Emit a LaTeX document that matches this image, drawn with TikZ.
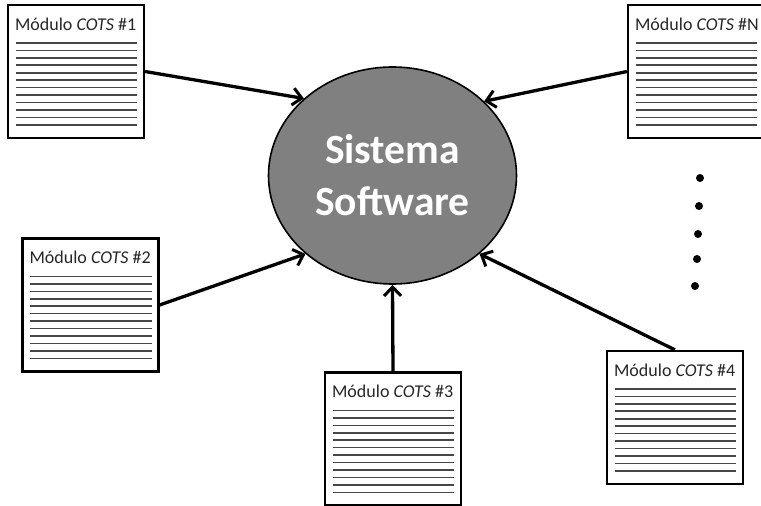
\documentclass[tikz,border=0pt]{standalone}
\usepackage{fontspec}
\setmainfont{Carlito}
\usetikzlibrary{arrows.meta,shapes.geometric}
\tikzset{
  modbox/.style={draw=black, line width=2.2pt, fill=white, rectangle, inner sep=0pt, minimum width=136pt, minimum height=133pt},
  modtitle/.style={inner sep=0pt, text=black!85, font=\fontsize{18}{21}\selectfont},
  modline/.style={draw=black!72, line width=1.6pt},
  conn/.style={draw=black, line width=3.3pt, -{Straight Barb[length=9pt,width=17pt,line width=3pt]}},
  sysell/.style={ellipse, draw=black, line width=1.6pt, fill=black!50, inner sep=0pt, minimum width=248pt, minimum height=217pt, text=white, align=center, font=\fontsize{41.5}{52}\selectfont\bfseries},
  vdot/.style={fill=black}
}
\newcommand\mymodule[4]{%
  \node[modbox] (#1) at (#2,#3) {};
  \node[modtitle, anchor=west] (#1t) at ([xshift=8pt,yshift=-20pt]#1.north west) {Módulo \textit{COTS} \##4};
  \foreach \i in {0,...,11} {
    \draw[modline] ([xshift=9pt,yshift={-39pt-\i*7.45pt}]#1.north west) -- ([xshift=-8pt,yshift={-39pt-\i*7.45pt}]#1.north east);
  }
}
\begin{document}
\begin{tikzpicture}[x=1pt,y=-1pt]
\useasboundingbox (0,0) rectangle (761,506);
\node[sysell] (sys) at (392.5,175.5) {Sistema\\Software};
\mymodule{b1}{76}{71.5}{1}
\mymodule{bN}{696}{71.5}{N}
\mymodule{b2}{90.5}{305}{2}
\mymodule{b3}{393}{439}{3}
\mymodule{b4}{675}{417.5}{4}
\draw[conn] (b1.east) -- (sys.139);
\draw[conn] (bN.west) -- (sys.39);
\draw[conn] (b2.east) -- (sys.222);
\draw[conn] (b3.north) -- (sys.south);
\draw[conn] (b4.north) -- (sys.318.5);
\foreach \p in {(700,178),(699,206),(698,234),(697,259),(695,286)} {
  \fill[vdot] \p circle (4pt);
}
\end{tikzpicture}
\end{document}
